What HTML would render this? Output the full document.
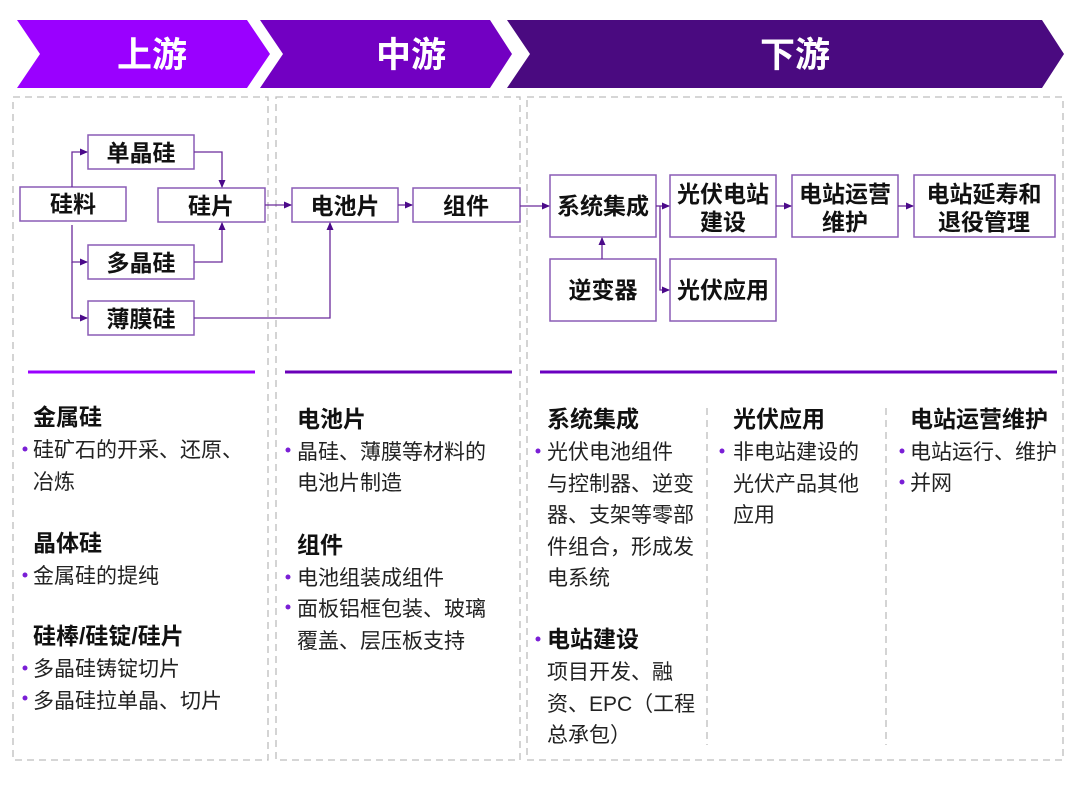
<!DOCTYPE html>
<html><head><meta charset="utf-8"><style>
html,body{margin:0;padding:0;background:#fff}
svg text{font-family:"Liberation Sans","Noto Sans CJK SC",sans-serif}
.b{font-weight:bold;font-size:23px;fill:#111}
.h{font-weight:bold;font-size:23px;fill:#111}
.t{font-size:21px;fill:#222}
.dot{fill:#7a1fd6}
</style></head><body>
<svg width="1080" height="784" viewBox="0 0 1080 784" xmlns="http://www.w3.org/2000/svg">
<defs><marker id="a" markerWidth="8" markerHeight="8" refX="7" refY="4" orient="auto" markerUnits="userSpaceOnUse"><path d="M0,0.5 L8,4 L0,7.5z" fill="#4b0a8a"/></marker></defs>
<polygon points="17,20 247,20 270,54 247,88 17,88 40,54" fill="#9a00ff"/>
<polygon points="260,20 490,20 512,54 490,88 260,88 283,54" fill="#7200c2"/>
<polygon points="507,20 1042,20 1064,54 1042,88 507,88 530,54" fill="#4a0a80"/>
<g font-size="35" font-weight="bold" fill="#fff" text-anchor="middle">
<text x="152" y="67">上游</text><text x="411" y="67">中游</text><text x="795" y="67">下游</text></g>
<g fill="none" stroke="#bdbdbd" stroke-width="1.3" stroke-dasharray="7,5">
<rect x="13" y="97" width="255" height="663"/>
<rect x="276" y="97" width="244" height="663"/>
<rect x="527" y="97" width="536" height="663"/>
<line x1="707" y1="408" x2="707" y2="745"/>
<line x1="886" y1="408" x2="886" y2="745"/>
</g>
<line x1="28" y1="372" x2="255" y2="372" stroke="#9a00ff" stroke-width="3"/>
<line x1="285" y1="372" x2="512" y2="372" stroke="#6a00b8" stroke-width="3"/>
<line x1="540" y1="372" x2="1057" y2="372" stroke="#6a00c0" stroke-width="3"/>
<g fill="#fff" stroke="#8a5cb5" stroke-width="1.5">
<rect x="20" y="187" width="106" height="34"/>
<rect x="88" y="135" width="106" height="34"/>
<rect x="158" y="188" width="107" height="34"/>
<rect x="88" y="245" width="106" height="34"/>
<rect x="88" y="301" width="106" height="34"/>
<rect x="292" y="188" width="106" height="34"/>
<rect x="413" y="188" width="107" height="34"/>
<rect x="550" y="175" width="106" height="62"/>
<rect x="670" y="175" width="106" height="62"/>
<rect x="792" y="175" width="106" height="62"/>
<rect x="914" y="175" width="141" height="62"/>
<rect x="550" y="259" width="106" height="62"/>
<rect x="670" y="259" width="106" height="62"/>
</g>
<g text-anchor="middle">
<text class="b" x="73" y="212">硅料</text>
<text class="b" x="141" y="161">单晶硅</text>
<text class="b" x="211" y="214">硅片</text>
<text class="b" x="141" y="271">多晶硅</text>
<text class="b" x="141" y="327">薄膜硅</text>
<text class="b" x="345" y="214">电池片</text>
<text class="b" x="466" y="214">组件</text>
<text class="b" x="603" y="214">系统集成</text>
<text class="b" x="723" y="202">光伏电站</text><text class="b" x="723" y="230">建设</text>
<text class="b" x="845" y="202">电站运营</text><text class="b" x="845" y="230">维护</text>
<text class="b" x="984" y="202">电站延寿和</text><text class="b" x="984" y="230">退役管理</text>
<text class="b" x="603" y="298">逆变器</text>
<text class="b" x="723" y="298">光伏应用</text>
</g>
<g fill="none" stroke="#6a2a9a" stroke-width="1.3" marker-end="url(#a)">
<path d="M72,187 V152 H87"/>
<path d="M72,225 V262 H87"/>
<path d="M72,262 V318 H87"/>
<path d="M194,152 H222 V187"/>
<path d="M194,262 H222 V223"/>
<path d="M265,205 H291"/>
<path d="M194,318 H330 V223"/>
<path d="M398,205 H412"/>
<path d="M520,206 H549"/>
<path d="M656,206 H669"/>
<path d="M660,206 V290 H669"/>
<path d="M602,259 V238"/>
<path d="M776,206 H791"/>
<path d="M898,206 H913"/>
</g>
<g>
<text class="h" x="33" y="425">金属硅</text>
<circle class="dot" cx="25" cy="449" r="2.5"/><text class="t" x="33" y="457">硅矿石的开采、还原、</text>
<text class="t" x="33" y="489">冶炼</text>
<text class="h" x="33" y="551">晶体硅</text>
<circle class="dot" cx="25" cy="575" r="2.5"/><text class="t" x="33" y="583">金属硅的提纯</text>
<text class="h" x="33" y="644">硅棒/硅锭/硅片</text>
<circle class="dot" cx="25" cy="668" r="2.5"/><text class="t" x="33" y="676">多晶硅铸锭切片</text>
<circle class="dot" cx="25" cy="698" r="2.5"/><text class="t" x="33" y="708">多晶硅拉单晶、切片</text>

<text class="h" x="297" y="427">电池片</text>
<circle class="dot" cx="288" cy="450" r="2.5"/><text class="t" x="297" y="459">晶硅、薄膜等材料的</text>
<text class="t" x="297" y="490">电池片制造</text>
<text class="h" x="297" y="553">组件</text>
<circle class="dot" cx="288" cy="577" r="2.5"/><text class="t" x="297" y="585">电池组装成组件</text>
<circle class="dot" cx="288" cy="607" r="2.5"/><text class="t" x="297" y="616">面板铝框包装、玻璃</text>
<text class="t" x="297" y="648">覆盖、层压板支持</text>

<text class="h" x="547" y="427">系统集成</text>
<circle class="dot" cx="538" cy="451" r="2.5"/><text class="t" x="547" y="459">光伏电池组件</text>
<text class="t" x="547" y="491">与控制器、逆变</text>
<text class="t" x="547" y="522">器、支架等零部</text>
<text class="t" x="547" y="554">件组合，形成发</text>
<text class="t" x="547" y="585">电系统</text>
<circle class="dot" cx="538" cy="639" r="2.5"/><text class="h" x="547" y="647">电站建设</text>
<text class="t" x="547" y="679">项目开发、融</text>
<text class="t" x="547" y="711">资、EPC（工程</text>
<text class="t" x="547" y="742">总承包）</text>

<text class="h" x="733" y="427">光伏应用</text>
<circle class="dot" cx="722" cy="451" r="2.5"/><text class="t" x="733" y="459">非电站建设的</text>
<text class="t" x="733" y="491">光伏产品其他</text>
<text class="t" x="733" y="522">应用</text>

<text class="h" x="910" y="427">电站运营维护</text>
<circle class="dot" cx="902" cy="451" r="2.5"/><text class="t" x="910" y="459">电站运行、维护</text>
<circle class="dot" cx="902" cy="482" r="2.5"/><text class="t" x="910" y="490">并网</text>
</g>
</svg>
</body></html>
